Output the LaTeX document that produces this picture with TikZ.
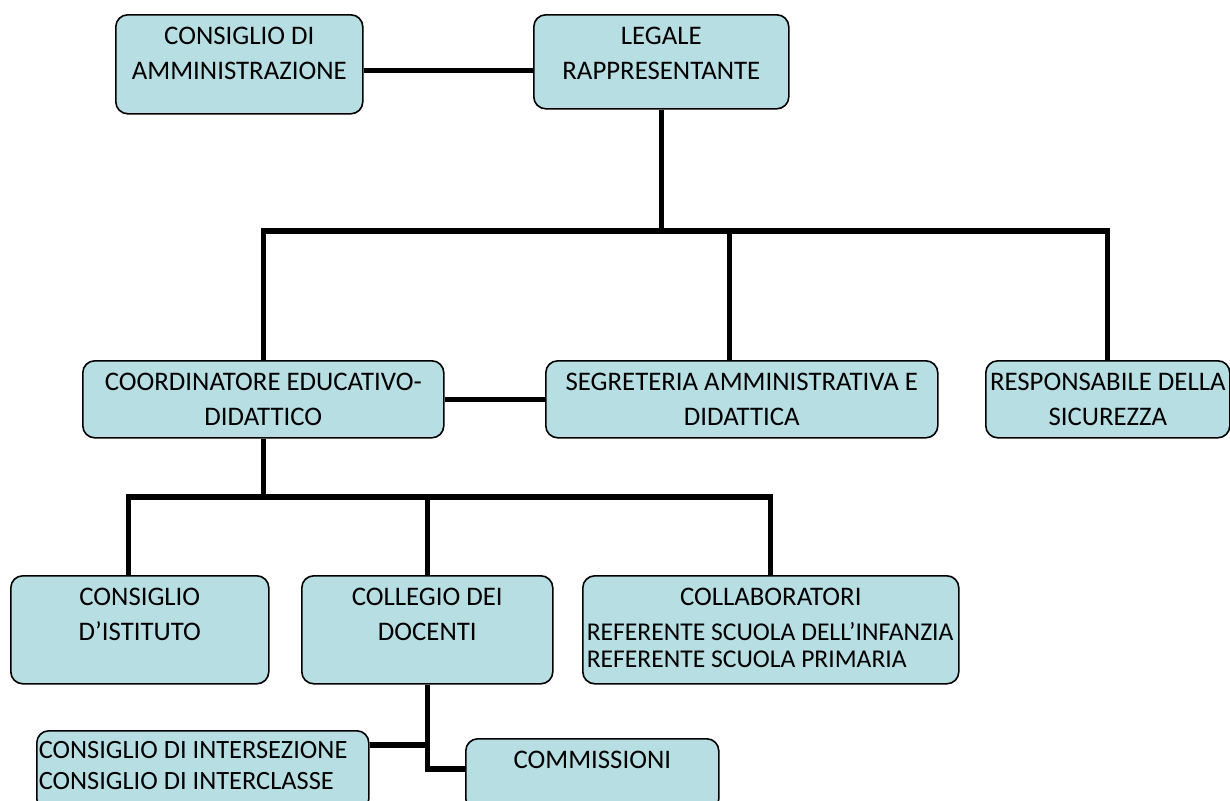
\documentclass[tikz,border=0pt]{standalone}
\usepackage{fontspec}
\setmainfont{Carlito}
\definecolor{boxblue}{RGB}{183,222,226}
\newcommand{\boxtext}[3]{\parbox[t][#2][t]{#1}{\centering\rule{0pt}{15pt}#3}}
\tikzset{
  orgbox/.style={draw, fill=boxblue, line width=0.8pt, rounded corners=6pt,
    anchor=north west, inner sep=0pt, font=\fontsize{13.4}{17.5}\selectfont},
  link/.style={line width=2.6pt}
}

\begin{document}
\begin{tikzpicture}[x=0.5pt, y=-0.5pt]
    % page
    \useasboundingbox (0,0) rectangle (1230,800);
    % boxes
    \node[orgbox] (amm) at (115,14) {\boxtext{123.5pt}{49.5pt}{CONSIGLIO DI\\AMMINISTRAZIONE}};
    \node[orgbox] (leg) at (533,14) {\boxtext{127.5pt}{47pt}{LEGALE\\RAPPRESENTANTE}};
    \node[orgbox] (coord) at (82,360) {\boxtext{180.5pt}{38.5pt}{COORDINATORE EDUCATIVO-\\DIDATTICO}};
    \node[orgbox] (segr) at (545,360) {\boxtext{196pt}{38.5pt}{SEGRETERIA AMMINISTRATIVA E\\DIDATTICA}};
    \node[orgbox] (resp) at (985,360) {\boxtext{122pt}{38.5pt}{RESPONSABILE DELLA\\SICUREZZA}};
    \node[orgbox] (cist) at (10,575) {\boxtext{129pt}{54pt}{CONSIGLIO\\D’ISTITUTO}};
    \node[orgbox] (coll) at (301,575) {\boxtext{125.5pt}{54pt}{COLLEGIO DEI\\DOCENTI}};
    \node[orgbox] (collab) at (582,575) {\boxtext{188pt}{54pt}{COLLABORATORI\par
      \raggedright\fontsize{12.8}{13.5}\selectfont\vspace{4pt}
      \hspace*{2pt}REFERENTE SCUOLA DELL’INFANZIA\\
      \hspace*{2pt}REFERENTE SCUOLA PRIMARIA}};
    \node[orgbox] (inter) at (36,730) {\parbox[t][40pt][t]{166pt}{\raggedright
      \fontsize{13.2}{15.5}\selectfont\rule{0pt}{14pt}%
      \hspace*{1pt}CONSIGLIO DI INTERSEZIONE\\
      \hspace*{1pt}CONSIGLIO DI INTERCLASSE}};
    \node[orgbox] (comm) at (465,738) {\boxtext{126.5pt}{36pt}{COMMISSIONI}};
    % junctions
    \coordinate (j1) at (leg.south |- 0,231);
    \coordinate (j2) at (coord.south |- 0,497);
    \coordinate (j3) at (coll.south |- 0,745);
    \coordinate (j4) at (coll.south |- 0,769);
    % connectors
    \draw[link] ([yshift=-3pt]amm.east) -- ([yshift=-3pt]amm.east -| leg.west);
    \draw[link] (leg.south) -- (j1);
    \draw[link] (coord.north) |- (j1) -| (resp.north);
    \draw[link] ([xshift=-6pt]segr.north) -- ([xshift=-6pt]segr.north |- j1);
    \draw[link] (coord.east) -- (segr.west);
    \draw[link] (coord.south) -- (j2);
    \draw[link] ([xshift=-5.5pt]cist.north) |- (j2) -| (collab.north);
    \draw[link] (coll.north) -- (coll.north |- j2);
    \draw[link] (coll.south) -- (j4) -- (j4 -| comm.west);
    \draw[link] (j3 -| inter.east) -- (j3);
\end{tikzpicture}
\end{document}
